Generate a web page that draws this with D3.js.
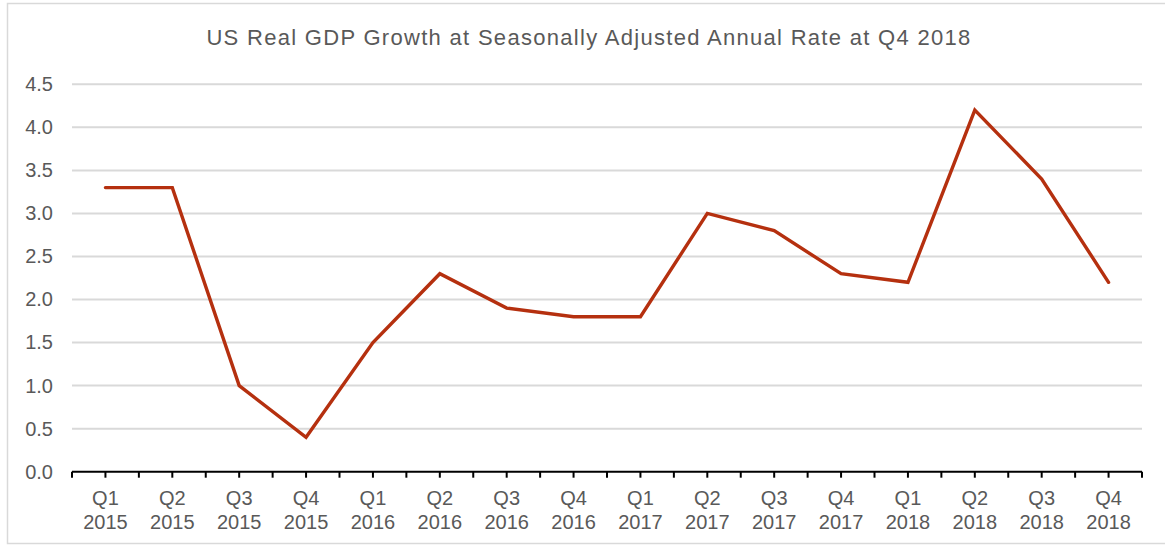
<!DOCTYPE html>
<html>
<head>
<meta charset="utf-8">
<script src="https://cdn.jsdelivr.net/npm/d3@7"></script>
<style>
  html, body { margin: 0; padding: 0; background: #fff; }
  svg { display: block; font-family: "Liberation Sans", Arial, sans-serif; }
</style>
</head>
<body>
<svg id="chart" width="1165" height="546"></svg>
<script>
// Quarterly real GDP growth, seasonally adjusted annual rate (%)
const quarters = ["Q1", "Q2", "Q3", "Q4", "Q1", "Q2", "Q3", "Q4", "Q1", "Q2", "Q3", "Q4", "Q1", "Q2", "Q3", "Q4"];
const years = ["2015", "2015", "2015", "2015", "2016", "2016", "2016", "2016", "2017", "2017", "2017", "2017", "2018", "2018", "2018", "2018"];
const growth = [3.3, 3.3, 1.0, 0.4, 1.5, 2.3, 1.9, 1.8, 1.8, 3.0, 2.8, 2.3, 2.2, 4.2, 3.4, 2.2];
const yTicks = [0, 0.5, 1.0, 1.5, 2.0, 2.5, 3.0, 3.5, 4.0, 4.5];
const title = "US Real GDP Growth at Seasonally Adjusted Annual Rate at Q4 2018";

const svg = d3.select("#chart");
const W = 1165;
const plot = { left: 72, right: 1142, top: 84.3, bottom: 471.7 };
const textColor = "#595959";
const gridColor = "#d9d9d9";

// Outer frame
svg.append("rect")
  .attr("x", 7.5).attr("y", 3.5)
  .attr("width", W).attr("height", 540)
  .attr("fill", "none").attr("stroke", gridColor).attr("stroke-width", 1.5);

const labels = quarters.map((q, i) => q + " " + years[i]);

const x = d3.scaleBand().domain(labels).range([plot.left, plot.right]).padding(0);
const y = d3.scaleLinear().domain([0, 4.5]).range([plot.bottom, plot.top]);

// Title
svg.append("text")
  .attr("x", 589)
  .attr("y", 45)
  .attr("text-anchor", "middle")
  .attr("fill", textColor)
  .attr("font-size", 22)
  .attr("letter-spacing", 1.3)
  .text(title);

// Horizontal gridlines
svg.append("g")
  .selectAll("line")
  .data(yTicks.filter(d => d > 0))
  .join("line")
  .attr("x1", plot.left).attr("x2", plot.right)
  .attr("y1", d => y(d)).attr("y2", d => y(d))
  .attr("stroke", gridColor).attr("stroke-width", 2);

// Y axis labels
const yAxis = d3.axisLeft(y).tickValues(yTicks).tickFormat(d3.format(".1f")).tickSize(0).tickPadding(19);
const gy = svg.append("g").attr("transform", `translate(${plot.left},0)`).call(yAxis);
gy.select(".domain").remove();
gy.selectAll("text")
  .attr("fill", textColor)
  .attr("font-size", 20)
  .attr("font-family", "'Liberation Sans', Arial, sans-serif");

// X axis: baseline with ticks at band edges and centres
const gx = svg.append("g");
gx.append("line")
  .attr("x1", plot.left).attr("x2", plot.right)
  .attr("y1", plot.bottom).attr("y2", plot.bottom)
  .attr("stroke", "#000").attr("stroke-width", 2);

const tickXs = [];
labels.forEach(l => { tickXs.push(x(l)); tickXs.push(x(l) + x.bandwidth() / 2); });
tickXs.push(plot.right);
gx.selectAll("line.tick")
  .data(tickXs)
  .join("line")
  .attr("class", "tick")
  .attr("x1", d => d).attr("x2", d => d)
  .attr("y1", plot.bottom).attr("y2", plot.bottom + 6)
  .attr("stroke", "#000").attr("stroke-width", 2);

const xl = gx.selectAll("text.xl")
  .data(labels)
  .join("text")
  .attr("class", "xl")
  .attr("text-anchor", "middle")
  .attr("fill", textColor)
  .attr("font-size", 20);
xl.append("tspan")
  .attr("x", d => x(d) + x.bandwidth() / 2)
  .attr("y", 505)
  .text((d, i) => quarters[i]);
xl.append("tspan")
  .attr("x", d => x(d) + x.bandwidth() / 2)
  .attr("y", 529)
  .text((d, i) => years[i]);

// Growth line
const line = d3.line()
  .x((d, i) => x(labels[i]) + x.bandwidth() / 2)
  .y(d => y(d));

svg.append("path")
  .datum(growth)
  .attr("d", line)
  .attr("fill", "none")
  .attr("stroke", "#b5300f")
  .attr("stroke-width", 3.4)
  .attr("stroke-linejoin", "miter")
  .attr("stroke-linecap", "round");
</script>
</body>
</html>
